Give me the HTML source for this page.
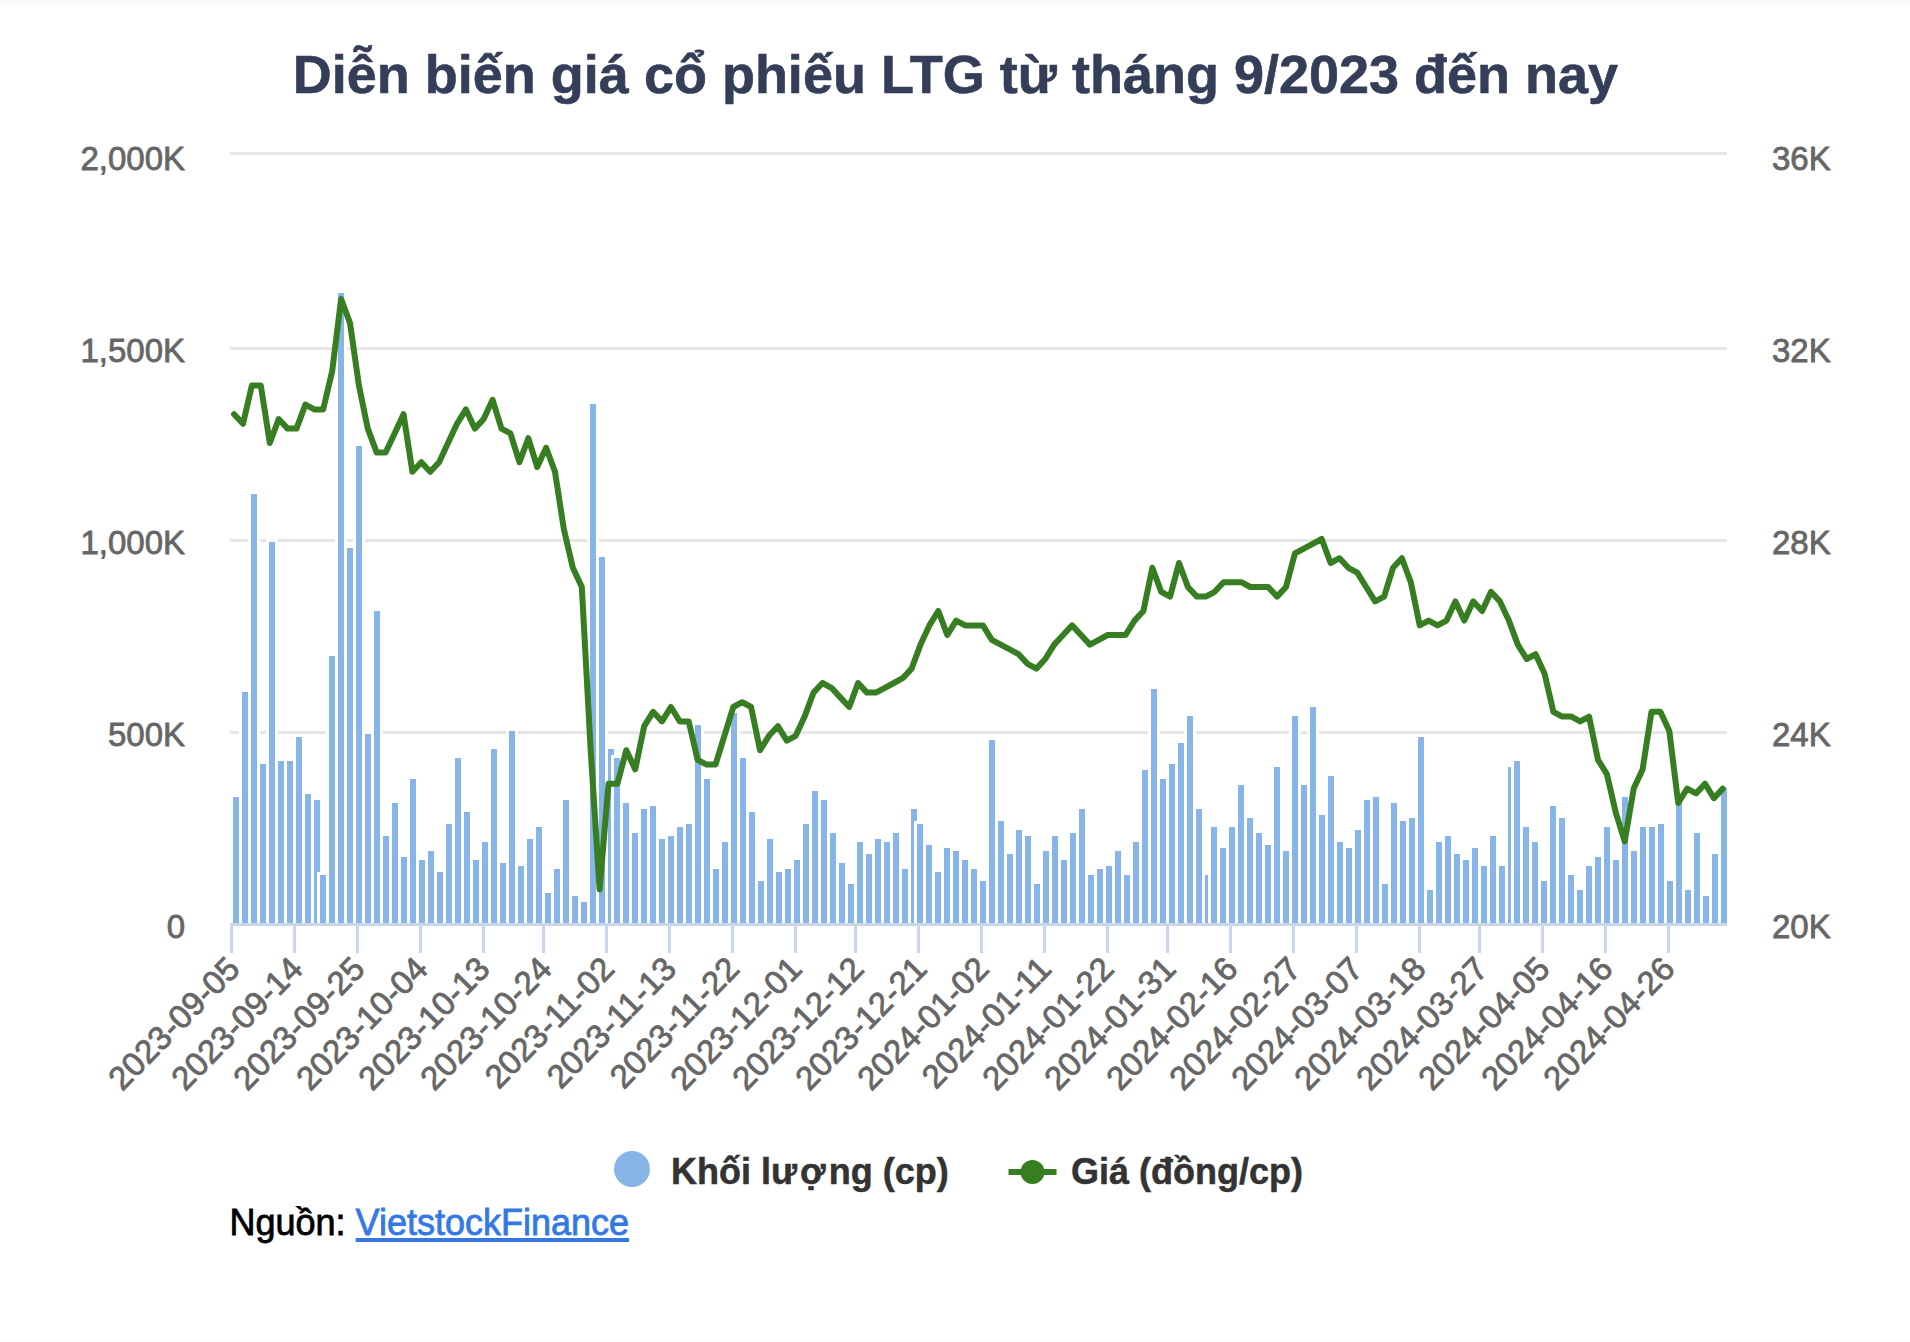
<!DOCTYPE html>
<html><head><meta charset="utf-8"><title>LTG</title>
<style>
html,body{margin:0;padding:0;background:#fff;}
body{width:1910px;height:1342px;position:relative;overflow:hidden;font-family:"Liberation Sans",sans-serif;}
.t{position:absolute;white-space:nowrap;line-height:1;}
#top{position:absolute;left:0;top:0;width:1910px;height:5px;background:#fafafa;}
#bot{position:absolute;left:0;top:1340px;width:1910px;height:2px;background:#fafafa;}
#title{left:0.5px;width:1910px;text-align:center;top:47px;font-size:54px;font-weight:bold;color:#343e58;-webkit-text-stroke:0.6px #343e58;}
.yl{font-size:33px;color:#666;-webkit-text-stroke:0.8px #666;}
.xl{font-size:33px;color:#666;-webkit-text-stroke:0.8px #666;transform-origin:100% 100%;transform:rotate(-45.5deg);text-align:right;letter-spacing:0.15px;}
.lg{font-size:36px;font-weight:bold;color:#333;-webkit-text-stroke:0.5px #333;}
#src{left:229.5px;top:1205px;font-size:36px;color:#000;-webkit-text-stroke:0.8px #000;}
#src span{color:#3478e6;-webkit-text-stroke:0.8px #3478e6;text-decoration:underline;text-decoration-thickness:4px;text-underline-offset:3px;}
svg{position:absolute;left:0;top:0;}
</style></head><body>
<div id="top"></div><div id="bot"></div>
<svg width="1910" height="1342" viewBox="0 0 1910 1342">

<rect x="230" y="152" width="1497" height="3" fill="#e6e6e6"/>
<rect x="230" y="347" width="1497" height="3" fill="#e6e6e6"/>
<rect x="230" y="539" width="1497" height="3" fill="#e6e6e6"/>
<rect x="230" y="731" width="1497" height="3" fill="#e6e6e6"/>
<rect x="230" y="794" width="12" height="129" fill="#fff"/>
<rect x="233" y="797" width="6" height="126" fill="#88b5e7"/>
<rect x="239" y="689" width="12" height="234" fill="#fff"/>
<rect x="242" y="692" width="6" height="231" fill="#88b5e7"/>
<rect x="248" y="491" width="12" height="432" fill="#fff"/>
<rect x="251" y="494" width="6" height="429" fill="#88b5e7"/>
<rect x="257" y="761" width="12" height="162" fill="#fff"/>
<rect x="260" y="764" width="6" height="159" fill="#88b5e7"/>
<rect x="266" y="539" width="12" height="384" fill="#fff"/>
<rect x="269" y="542" width="6" height="381" fill="#88b5e7"/>
<rect x="275" y="758" width="12" height="165" fill="#fff"/>
<rect x="278" y="761" width="6" height="162" fill="#88b5e7"/>
<rect x="284" y="758" width="12" height="165" fill="#fff"/>
<rect x="287" y="761" width="6" height="162" fill="#88b5e7"/>
<rect x="293" y="734" width="12" height="189" fill="#fff"/>
<rect x="296" y="737" width="6" height="186" fill="#88b5e7"/>
<rect x="302" y="791" width="12" height="132" fill="#fff"/>
<rect x="305" y="794" width="6" height="129" fill="#88b5e7"/>
<rect x="311" y="797" width="12" height="126" fill="#fff"/>
<rect x="314" y="800" width="6" height="123" fill="#88b5e7"/>
<rect x="317" y="872" width="12" height="51" fill="#fff"/>
<rect x="320" y="875" width="6" height="48" fill="#88b5e7"/>
<rect x="326" y="653" width="12" height="270" fill="#fff"/>
<rect x="329" y="656" width="6" height="267" fill="#88b5e7"/>
<rect x="335" y="290" width="12" height="633" fill="#fff"/>
<rect x="338" y="293" width="6" height="630" fill="#88b5e7"/>
<rect x="344" y="545" width="12" height="378" fill="#fff"/>
<rect x="347" y="548" width="6" height="375" fill="#88b5e7"/>
<rect x="353" y="443" width="12" height="480" fill="#fff"/>
<rect x="356" y="446" width="6" height="477" fill="#88b5e7"/>
<rect x="362" y="731" width="12" height="192" fill="#fff"/>
<rect x="365" y="734" width="6" height="189" fill="#88b5e7"/>
<rect x="371" y="608" width="12" height="315" fill="#fff"/>
<rect x="374" y="611" width="6" height="312" fill="#88b5e7"/>
<rect x="380" y="833" width="12" height="90" fill="#fff"/>
<rect x="383" y="836" width="6" height="87" fill="#88b5e7"/>
<rect x="389" y="800" width="12" height="123" fill="#fff"/>
<rect x="392" y="803" width="6" height="120" fill="#88b5e7"/>
<rect x="398" y="854" width="12" height="69" fill="#fff"/>
<rect x="401" y="857" width="6" height="66" fill="#88b5e7"/>
<rect x="407" y="776" width="12" height="147" fill="#fff"/>
<rect x="410" y="779" width="6" height="144" fill="#88b5e7"/>
<rect x="416" y="857" width="12" height="66" fill="#fff"/>
<rect x="419" y="860" width="6" height="63" fill="#88b5e7"/>
<rect x="425" y="848" width="12" height="75" fill="#fff"/>
<rect x="428" y="851" width="6" height="72" fill="#88b5e7"/>
<rect x="434" y="869" width="12" height="54" fill="#fff"/>
<rect x="437" y="872" width="6" height="51" fill="#88b5e7"/>
<rect x="443" y="821" width="12" height="102" fill="#fff"/>
<rect x="446" y="824" width="6" height="99" fill="#88b5e7"/>
<rect x="452" y="755" width="12" height="168" fill="#fff"/>
<rect x="455" y="758" width="6" height="165" fill="#88b5e7"/>
<rect x="461" y="809" width="12" height="114" fill="#fff"/>
<rect x="464" y="812" width="6" height="111" fill="#88b5e7"/>
<rect x="470" y="857" width="12" height="66" fill="#fff"/>
<rect x="473" y="860" width="6" height="63" fill="#88b5e7"/>
<rect x="479" y="839" width="12" height="84" fill="#fff"/>
<rect x="482" y="842" width="6" height="81" fill="#88b5e7"/>
<rect x="488" y="746" width="12" height="177" fill="#fff"/>
<rect x="491" y="749" width="6" height="174" fill="#88b5e7"/>
<rect x="497" y="860" width="12" height="63" fill="#fff"/>
<rect x="500" y="863" width="6" height="60" fill="#88b5e7"/>
<rect x="506" y="728" width="12" height="195" fill="#fff"/>
<rect x="509" y="731" width="6" height="192" fill="#88b5e7"/>
<rect x="515" y="863" width="12" height="60" fill="#fff"/>
<rect x="518" y="866" width="6" height="57" fill="#88b5e7"/>
<rect x="524" y="836" width="12" height="87" fill="#fff"/>
<rect x="527" y="839" width="6" height="84" fill="#88b5e7"/>
<rect x="533" y="824" width="12" height="99" fill="#fff"/>
<rect x="536" y="827" width="6" height="96" fill="#88b5e7"/>
<rect x="542" y="890" width="12" height="33" fill="#fff"/>
<rect x="545" y="893" width="6" height="30" fill="#88b5e7"/>
<rect x="551" y="866" width="12" height="57" fill="#fff"/>
<rect x="554" y="869" width="6" height="54" fill="#88b5e7"/>
<rect x="560" y="797" width="12" height="126" fill="#fff"/>
<rect x="563" y="800" width="6" height="123" fill="#88b5e7"/>
<rect x="569" y="893" width="12" height="30" fill="#fff"/>
<rect x="572" y="896" width="6" height="27" fill="#88b5e7"/>
<rect x="578" y="899" width="12" height="24" fill="#fff"/>
<rect x="581" y="902" width="6" height="21" fill="#88b5e7"/>
<rect x="587" y="401" width="12" height="522" fill="#fff"/>
<rect x="590" y="404" width="6" height="519" fill="#88b5e7"/>
<rect x="596" y="554" width="12" height="369" fill="#fff"/>
<rect x="599" y="557" width="6" height="366" fill="#88b5e7"/>
<rect x="605" y="746" width="12" height="177" fill="#fff"/>
<rect x="608" y="749" width="6" height="174" fill="#88b5e7"/>
<rect x="611" y="755" width="12" height="168" fill="#fff"/>
<rect x="614" y="758" width="6" height="165" fill="#88b5e7"/>
<rect x="620" y="800" width="12" height="123" fill="#fff"/>
<rect x="623" y="803" width="6" height="120" fill="#88b5e7"/>
<rect x="629" y="830" width="12" height="93" fill="#fff"/>
<rect x="632" y="833" width="6" height="90" fill="#88b5e7"/>
<rect x="638" y="806" width="12" height="117" fill="#fff"/>
<rect x="641" y="809" width="6" height="114" fill="#88b5e7"/>
<rect x="647" y="803" width="12" height="120" fill="#fff"/>
<rect x="650" y="806" width="6" height="117" fill="#88b5e7"/>
<rect x="656" y="836" width="12" height="87" fill="#fff"/>
<rect x="659" y="839" width="6" height="84" fill="#88b5e7"/>
<rect x="665" y="833" width="12" height="90" fill="#fff"/>
<rect x="668" y="836" width="6" height="87" fill="#88b5e7"/>
<rect x="674" y="824" width="12" height="99" fill="#fff"/>
<rect x="677" y="827" width="6" height="96" fill="#88b5e7"/>
<rect x="683" y="821" width="12" height="102" fill="#fff"/>
<rect x="686" y="824" width="6" height="99" fill="#88b5e7"/>
<rect x="692" y="722" width="12" height="201" fill="#fff"/>
<rect x="695" y="725" width="6" height="198" fill="#88b5e7"/>
<rect x="701" y="776" width="12" height="147" fill="#fff"/>
<rect x="704" y="779" width="6" height="144" fill="#88b5e7"/>
<rect x="710" y="866" width="12" height="57" fill="#fff"/>
<rect x="713" y="869" width="6" height="54" fill="#88b5e7"/>
<rect x="719" y="839" width="12" height="84" fill="#fff"/>
<rect x="722" y="842" width="6" height="81" fill="#88b5e7"/>
<rect x="728" y="710" width="12" height="213" fill="#fff"/>
<rect x="731" y="713" width="6" height="210" fill="#88b5e7"/>
<rect x="737" y="755" width="12" height="168" fill="#fff"/>
<rect x="740" y="758" width="6" height="165" fill="#88b5e7"/>
<rect x="746" y="809" width="12" height="114" fill="#fff"/>
<rect x="749" y="812" width="6" height="111" fill="#88b5e7"/>
<rect x="755" y="878" width="12" height="45" fill="#fff"/>
<rect x="758" y="881" width="6" height="42" fill="#88b5e7"/>
<rect x="764" y="836" width="12" height="87" fill="#fff"/>
<rect x="767" y="839" width="6" height="84" fill="#88b5e7"/>
<rect x="773" y="869" width="12" height="54" fill="#fff"/>
<rect x="776" y="872" width="6" height="51" fill="#88b5e7"/>
<rect x="782" y="866" width="12" height="57" fill="#fff"/>
<rect x="785" y="869" width="6" height="54" fill="#88b5e7"/>
<rect x="791" y="857" width="12" height="66" fill="#fff"/>
<rect x="794" y="860" width="6" height="63" fill="#88b5e7"/>
<rect x="800" y="821" width="12" height="102" fill="#fff"/>
<rect x="803" y="824" width="6" height="99" fill="#88b5e7"/>
<rect x="809" y="788" width="12" height="135" fill="#fff"/>
<rect x="812" y="791" width="6" height="132" fill="#88b5e7"/>
<rect x="818" y="797" width="12" height="126" fill="#fff"/>
<rect x="821" y="800" width="6" height="123" fill="#88b5e7"/>
<rect x="827" y="830" width="12" height="93" fill="#fff"/>
<rect x="830" y="833" width="6" height="90" fill="#88b5e7"/>
<rect x="836" y="860" width="12" height="63" fill="#fff"/>
<rect x="839" y="863" width="6" height="60" fill="#88b5e7"/>
<rect x="845" y="881" width="12" height="42" fill="#fff"/>
<rect x="848" y="884" width="6" height="39" fill="#88b5e7"/>
<rect x="854" y="839" width="12" height="84" fill="#fff"/>
<rect x="857" y="842" width="6" height="81" fill="#88b5e7"/>
<rect x="863" y="851" width="12" height="72" fill="#fff"/>
<rect x="866" y="854" width="6" height="69" fill="#88b5e7"/>
<rect x="872" y="836" width="12" height="87" fill="#fff"/>
<rect x="875" y="839" width="6" height="84" fill="#88b5e7"/>
<rect x="881" y="839" width="12" height="84" fill="#fff"/>
<rect x="884" y="842" width="6" height="81" fill="#88b5e7"/>
<rect x="890" y="830" width="12" height="93" fill="#fff"/>
<rect x="893" y="833" width="6" height="90" fill="#88b5e7"/>
<rect x="899" y="866" width="12" height="57" fill="#fff"/>
<rect x="902" y="869" width="6" height="54" fill="#88b5e7"/>
<rect x="908" y="806" width="12" height="117" fill="#fff"/>
<rect x="911" y="809" width="6" height="114" fill="#88b5e7"/>
<rect x="914" y="821" width="12" height="102" fill="#fff"/>
<rect x="917" y="824" width="6" height="99" fill="#88b5e7"/>
<rect x="923" y="842" width="12" height="81" fill="#fff"/>
<rect x="926" y="845" width="6" height="78" fill="#88b5e7"/>
<rect x="932" y="869" width="12" height="54" fill="#fff"/>
<rect x="935" y="872" width="6" height="51" fill="#88b5e7"/>
<rect x="941" y="845" width="12" height="78" fill="#fff"/>
<rect x="944" y="848" width="6" height="75" fill="#88b5e7"/>
<rect x="950" y="848" width="12" height="75" fill="#fff"/>
<rect x="953" y="851" width="6" height="72" fill="#88b5e7"/>
<rect x="959" y="857" width="12" height="66" fill="#fff"/>
<rect x="962" y="860" width="6" height="63" fill="#88b5e7"/>
<rect x="968" y="866" width="12" height="57" fill="#fff"/>
<rect x="971" y="869" width="6" height="54" fill="#88b5e7"/>
<rect x="977" y="878" width="12" height="45" fill="#fff"/>
<rect x="980" y="881" width="6" height="42" fill="#88b5e7"/>
<rect x="986" y="737" width="12" height="186" fill="#fff"/>
<rect x="989" y="740" width="6" height="183" fill="#88b5e7"/>
<rect x="995" y="818" width="12" height="105" fill="#fff"/>
<rect x="998" y="821" width="6" height="102" fill="#88b5e7"/>
<rect x="1004" y="851" width="12" height="72" fill="#fff"/>
<rect x="1007" y="854" width="6" height="69" fill="#88b5e7"/>
<rect x="1013" y="827" width="12" height="96" fill="#fff"/>
<rect x="1016" y="830" width="6" height="93" fill="#88b5e7"/>
<rect x="1022" y="833" width="12" height="90" fill="#fff"/>
<rect x="1025" y="836" width="6" height="87" fill="#88b5e7"/>
<rect x="1031" y="881" width="12" height="42" fill="#fff"/>
<rect x="1034" y="884" width="6" height="39" fill="#88b5e7"/>
<rect x="1040" y="848" width="12" height="75" fill="#fff"/>
<rect x="1043" y="851" width="6" height="72" fill="#88b5e7"/>
<rect x="1049" y="833" width="12" height="90" fill="#fff"/>
<rect x="1052" y="836" width="6" height="87" fill="#88b5e7"/>
<rect x="1058" y="857" width="12" height="66" fill="#fff"/>
<rect x="1061" y="860" width="6" height="63" fill="#88b5e7"/>
<rect x="1067" y="830" width="12" height="93" fill="#fff"/>
<rect x="1070" y="833" width="6" height="90" fill="#88b5e7"/>
<rect x="1076" y="806" width="12" height="117" fill="#fff"/>
<rect x="1079" y="809" width="6" height="114" fill="#88b5e7"/>
<rect x="1085" y="872" width="12" height="51" fill="#fff"/>
<rect x="1088" y="875" width="6" height="48" fill="#88b5e7"/>
<rect x="1094" y="866" width="12" height="57" fill="#fff"/>
<rect x="1097" y="869" width="6" height="54" fill="#88b5e7"/>
<rect x="1103" y="863" width="12" height="60" fill="#fff"/>
<rect x="1106" y="866" width="6" height="57" fill="#88b5e7"/>
<rect x="1112" y="848" width="12" height="75" fill="#fff"/>
<rect x="1115" y="851" width="6" height="72" fill="#88b5e7"/>
<rect x="1121" y="872" width="12" height="51" fill="#fff"/>
<rect x="1124" y="875" width="6" height="48" fill="#88b5e7"/>
<rect x="1130" y="839" width="12" height="84" fill="#fff"/>
<rect x="1133" y="842" width="6" height="81" fill="#88b5e7"/>
<rect x="1139" y="767" width="12" height="156" fill="#fff"/>
<rect x="1142" y="770" width="6" height="153" fill="#88b5e7"/>
<rect x="1148" y="686" width="12" height="237" fill="#fff"/>
<rect x="1151" y="689" width="6" height="234" fill="#88b5e7"/>
<rect x="1157" y="776" width="12" height="147" fill="#fff"/>
<rect x="1160" y="779" width="6" height="144" fill="#88b5e7"/>
<rect x="1166" y="761" width="12" height="162" fill="#fff"/>
<rect x="1169" y="764" width="6" height="159" fill="#88b5e7"/>
<rect x="1175" y="740" width="12" height="183" fill="#fff"/>
<rect x="1178" y="743" width="6" height="180" fill="#88b5e7"/>
<rect x="1184" y="713" width="12" height="210" fill="#fff"/>
<rect x="1187" y="716" width="6" height="207" fill="#88b5e7"/>
<rect x="1193" y="806" width="12" height="117" fill="#fff"/>
<rect x="1196" y="809" width="6" height="114" fill="#88b5e7"/>
<rect x="1202" y="872" width="12" height="51" fill="#fff"/>
<rect x="1205" y="875" width="6" height="48" fill="#88b5e7"/>
<rect x="1208" y="824" width="12" height="99" fill="#fff"/>
<rect x="1211" y="827" width="6" height="96" fill="#88b5e7"/>
<rect x="1217" y="845" width="12" height="78" fill="#fff"/>
<rect x="1220" y="848" width="6" height="75" fill="#88b5e7"/>
<rect x="1226" y="824" width="12" height="99" fill="#fff"/>
<rect x="1229" y="827" width="6" height="96" fill="#88b5e7"/>
<rect x="1235" y="782" width="12" height="141" fill="#fff"/>
<rect x="1238" y="785" width="6" height="138" fill="#88b5e7"/>
<rect x="1244" y="815" width="12" height="108" fill="#fff"/>
<rect x="1247" y="818" width="6" height="105" fill="#88b5e7"/>
<rect x="1253" y="830" width="12" height="93" fill="#fff"/>
<rect x="1256" y="833" width="6" height="90" fill="#88b5e7"/>
<rect x="1262" y="842" width="12" height="81" fill="#fff"/>
<rect x="1265" y="845" width="6" height="78" fill="#88b5e7"/>
<rect x="1271" y="764" width="12" height="159" fill="#fff"/>
<rect x="1274" y="767" width="6" height="156" fill="#88b5e7"/>
<rect x="1280" y="848" width="12" height="75" fill="#fff"/>
<rect x="1283" y="851" width="6" height="72" fill="#88b5e7"/>
<rect x="1289" y="713" width="12" height="210" fill="#fff"/>
<rect x="1292" y="716" width="6" height="207" fill="#88b5e7"/>
<rect x="1298" y="782" width="12" height="141" fill="#fff"/>
<rect x="1301" y="785" width="6" height="138" fill="#88b5e7"/>
<rect x="1307" y="704" width="12" height="219" fill="#fff"/>
<rect x="1310" y="707" width="6" height="216" fill="#88b5e7"/>
<rect x="1316" y="812" width="12" height="111" fill="#fff"/>
<rect x="1319" y="815" width="6" height="108" fill="#88b5e7"/>
<rect x="1325" y="773" width="12" height="150" fill="#fff"/>
<rect x="1328" y="776" width="6" height="147" fill="#88b5e7"/>
<rect x="1334" y="839" width="12" height="84" fill="#fff"/>
<rect x="1337" y="842" width="6" height="81" fill="#88b5e7"/>
<rect x="1343" y="845" width="12" height="78" fill="#fff"/>
<rect x="1346" y="848" width="6" height="75" fill="#88b5e7"/>
<rect x="1352" y="827" width="12" height="96" fill="#fff"/>
<rect x="1355" y="830" width="6" height="93" fill="#88b5e7"/>
<rect x="1361" y="797" width="12" height="126" fill="#fff"/>
<rect x="1364" y="800" width="6" height="123" fill="#88b5e7"/>
<rect x="1370" y="794" width="12" height="129" fill="#fff"/>
<rect x="1373" y="797" width="6" height="126" fill="#88b5e7"/>
<rect x="1379" y="881" width="12" height="42" fill="#fff"/>
<rect x="1382" y="884" width="6" height="39" fill="#88b5e7"/>
<rect x="1388" y="800" width="12" height="123" fill="#fff"/>
<rect x="1391" y="803" width="6" height="120" fill="#88b5e7"/>
<rect x="1397" y="818" width="12" height="105" fill="#fff"/>
<rect x="1400" y="821" width="6" height="102" fill="#88b5e7"/>
<rect x="1406" y="815" width="12" height="108" fill="#fff"/>
<rect x="1409" y="818" width="6" height="105" fill="#88b5e7"/>
<rect x="1415" y="734" width="12" height="189" fill="#fff"/>
<rect x="1418" y="737" width="6" height="186" fill="#88b5e7"/>
<rect x="1424" y="887" width="12" height="36" fill="#fff"/>
<rect x="1427" y="890" width="6" height="33" fill="#88b5e7"/>
<rect x="1433" y="839" width="12" height="84" fill="#fff"/>
<rect x="1436" y="842" width="6" height="81" fill="#88b5e7"/>
<rect x="1442" y="833" width="12" height="90" fill="#fff"/>
<rect x="1445" y="836" width="6" height="87" fill="#88b5e7"/>
<rect x="1451" y="851" width="12" height="72" fill="#fff"/>
<rect x="1454" y="854" width="6" height="69" fill="#88b5e7"/>
<rect x="1460" y="857" width="12" height="66" fill="#fff"/>
<rect x="1463" y="860" width="6" height="63" fill="#88b5e7"/>
<rect x="1469" y="845" width="12" height="78" fill="#fff"/>
<rect x="1472" y="848" width="6" height="75" fill="#88b5e7"/>
<rect x="1478" y="863" width="12" height="60" fill="#fff"/>
<rect x="1481" y="866" width="6" height="57" fill="#88b5e7"/>
<rect x="1487" y="833" width="12" height="90" fill="#fff"/>
<rect x="1490" y="836" width="6" height="87" fill="#88b5e7"/>
<rect x="1496" y="863" width="12" height="60" fill="#fff"/>
<rect x="1499" y="866" width="6" height="57" fill="#88b5e7"/>
<rect x="1505" y="764" width="12" height="159" fill="#fff"/>
<rect x="1508" y="767" width="6" height="156" fill="#88b5e7"/>
<rect x="1511" y="758" width="12" height="165" fill="#fff"/>
<rect x="1514" y="761" width="6" height="162" fill="#88b5e7"/>
<rect x="1520" y="824" width="12" height="99" fill="#fff"/>
<rect x="1523" y="827" width="6" height="96" fill="#88b5e7"/>
<rect x="1529" y="839" width="12" height="84" fill="#fff"/>
<rect x="1532" y="842" width="6" height="81" fill="#88b5e7"/>
<rect x="1538" y="878" width="12" height="45" fill="#fff"/>
<rect x="1541" y="881" width="6" height="42" fill="#88b5e7"/>
<rect x="1547" y="803" width="12" height="120" fill="#fff"/>
<rect x="1550" y="806" width="6" height="117" fill="#88b5e7"/>
<rect x="1556" y="815" width="12" height="108" fill="#fff"/>
<rect x="1559" y="818" width="6" height="105" fill="#88b5e7"/>
<rect x="1565" y="872" width="12" height="51" fill="#fff"/>
<rect x="1568" y="875" width="6" height="48" fill="#88b5e7"/>
<rect x="1574" y="887" width="12" height="36" fill="#fff"/>
<rect x="1577" y="890" width="6" height="33" fill="#88b5e7"/>
<rect x="1583" y="863" width="12" height="60" fill="#fff"/>
<rect x="1586" y="866" width="6" height="57" fill="#88b5e7"/>
<rect x="1592" y="854" width="12" height="69" fill="#fff"/>
<rect x="1595" y="857" width="6" height="66" fill="#88b5e7"/>
<rect x="1601" y="824" width="12" height="99" fill="#fff"/>
<rect x="1604" y="827" width="6" height="96" fill="#88b5e7"/>
<rect x="1610" y="857" width="12" height="66" fill="#fff"/>
<rect x="1613" y="860" width="6" height="63" fill="#88b5e7"/>
<rect x="1619" y="794" width="12" height="129" fill="#fff"/>
<rect x="1622" y="797" width="6" height="126" fill="#88b5e7"/>
<rect x="1628" y="848" width="12" height="75" fill="#fff"/>
<rect x="1631" y="851" width="6" height="72" fill="#88b5e7"/>
<rect x="1637" y="824" width="12" height="99" fill="#fff"/>
<rect x="1640" y="827" width="6" height="96" fill="#88b5e7"/>
<rect x="1646" y="824" width="12" height="99" fill="#fff"/>
<rect x="1649" y="827" width="6" height="96" fill="#88b5e7"/>
<rect x="1655" y="821" width="12" height="102" fill="#fff"/>
<rect x="1658" y="824" width="6" height="99" fill="#88b5e7"/>
<rect x="1664" y="878" width="12" height="45" fill="#fff"/>
<rect x="1667" y="881" width="6" height="42" fill="#88b5e7"/>
<rect x="1673" y="797" width="12" height="126" fill="#fff"/>
<rect x="1676" y="800" width="6" height="123" fill="#88b5e7"/>
<rect x="1682" y="887" width="12" height="36" fill="#fff"/>
<rect x="1685" y="890" width="6" height="33" fill="#88b5e7"/>
<rect x="1691" y="830" width="12" height="93" fill="#fff"/>
<rect x="1694" y="833" width="6" height="90" fill="#88b5e7"/>
<rect x="1700" y="893" width="12" height="30" fill="#fff"/>
<rect x="1703" y="896" width="6" height="27" fill="#88b5e7"/>
<rect x="1709" y="851" width="12" height="72" fill="#fff"/>
<rect x="1712" y="854" width="6" height="69" fill="#88b5e7"/>
<rect x="1718" y="785" width="12" height="138" fill="#fff"/>
<rect x="1721" y="788" width="6" height="135" fill="#88b5e7"/>
<rect x="230" y="923" width="1497" height="3" fill="#ccd6eb"/>
<rect x="230.0" y="923" width="3" height="30" fill="#ccd6eb"/>
<rect x="293.0" y="923" width="3" height="30" fill="#ccd6eb"/>
<rect x="356.0" y="923" width="3" height="30" fill="#ccd6eb"/>
<rect x="419.0" y="923" width="3" height="30" fill="#ccd6eb"/>
<rect x="482.0" y="923" width="3" height="30" fill="#ccd6eb"/>
<rect x="542.0" y="923" width="3" height="30" fill="#ccd6eb"/>
<rect x="605.0" y="923" width="3" height="30" fill="#ccd6eb"/>
<rect x="668.0" y="923" width="3" height="30" fill="#ccd6eb"/>
<rect x="731.0" y="923" width="3" height="30" fill="#ccd6eb"/>
<rect x="794.0" y="923" width="3" height="30" fill="#ccd6eb"/>
<rect x="854.0" y="923" width="3" height="30" fill="#ccd6eb"/>
<rect x="917.0" y="923" width="3" height="30" fill="#ccd6eb"/>
<rect x="980.0" y="923" width="3" height="30" fill="#ccd6eb"/>
<rect x="1043.0" y="923" width="3" height="30" fill="#ccd6eb"/>
<rect x="1106.0" y="923" width="3" height="30" fill="#ccd6eb"/>
<rect x="1166.0" y="923" width="3" height="30" fill="#ccd6eb"/>
<rect x="1229.0" y="923" width="3" height="30" fill="#ccd6eb"/>
<rect x="1292.0" y="923" width="3" height="30" fill="#ccd6eb"/>
<rect x="1355.0" y="923" width="3" height="30" fill="#ccd6eb"/>
<rect x="1418.0" y="923" width="3" height="30" fill="#ccd6eb"/>
<rect x="1478.0" y="923" width="3" height="30" fill="#ccd6eb"/>
<rect x="1541.0" y="923" width="3" height="30" fill="#ccd6eb"/>
<rect x="1604.0" y="923" width="3" height="30" fill="#ccd6eb"/>
<rect x="1667.0" y="923" width="3" height="30" fill="#ccd6eb"/>
<polyline points="234.1,414.2 243.0,423.8 251.9,385.4 260.8,385.4 269.8,443.0 278.7,419.0 287.6,428.6 296.5,428.6 305.4,404.6 314.3,409.4 323.2,409.4 332.2,371.0 341.1,299.0 350.0,323.0 358.9,385.4 367.8,428.6 376.7,452.6 385.6,452.6 394.6,433.4 403.5,414.2 412.4,471.8 421.3,462.2 430.2,471.8 439.1,462.2 448.0,443.0 457.0,423.8 465.9,409.4 474.8,428.6 483.7,419.0 492.6,399.8 501.5,428.6 510.4,433.4 519.4,462.2 528.3,438.2 537.2,467.0 546.1,447.8 555.0,471.8 563.9,529.4 572.8,567.8 581.8,587.0 590.7,750.2 599.6,889.4 608.5,783.8 617.4,783.8 626.3,750.2 635.2,769.4 644.2,726.2 653.1,711.8 662.0,721.4 670.9,707.0 679.8,721.4 688.7,721.4 697.6,759.8 706.6,764.6 715.5,764.6 724.4,735.8 733.3,707.0 742.2,702.2 751.1,707.0 760.0,750.2 769.0,735.8 777.9,726.2 786.8,740.6 795.7,735.8 804.6,716.6 813.5,692.6 822.5,683.0 831.4,687.8 840.3,697.4 849.2,707.0 858.1,683.0 867.0,692.6 875.9,692.6 884.9,687.8 893.8,683.0 902.7,678.2 911.6,668.6 920.5,644.6 929.4,625.4 938.3,611.0 947.3,635.0 956.2,620.6 965.1,625.4 974.0,625.4 982.9,625.4 991.8,639.8 1000.7,644.6 1009.7,649.4 1018.6,654.2 1027.5,663.8 1036.4,668.6 1045.3,659.0 1054.2,644.6 1063.1,635.0 1072.1,625.4 1081.0,635.0 1089.9,644.6 1098.8,639.8 1107.7,635.0 1116.6,635.0 1125.5,635.0 1134.5,620.6 1143.4,611.0 1152.3,567.8 1161.2,591.8 1170.1,596.6 1179.0,563.0 1187.9,587.0 1196.9,596.6 1205.8,596.6 1214.7,591.8 1223.6,582.2 1232.5,582.2 1241.4,582.2 1250.3,587.0 1259.3,587.0 1268.2,587.0 1277.1,596.6 1286.0,587.0 1294.9,553.4 1303.8,548.6 1312.7,543.8 1321.7,539.0 1330.6,563.0 1339.5,558.2 1348.4,567.8 1357.3,572.6 1366.2,587.0 1375.1,601.4 1384.1,596.6 1393.0,567.8 1401.9,558.2 1410.8,582.2 1419.7,625.4 1428.6,620.6 1437.5,625.4 1446.5,620.6 1455.4,601.4 1464.3,620.6 1473.2,601.4 1482.1,611.0 1491.0,591.8 1499.9,601.4 1508.9,620.6 1517.8,644.6 1526.7,659.0 1535.6,654.2 1544.5,673.4 1553.4,711.8 1562.3,716.6 1571.3,716.6 1580.2,721.4 1589.1,716.6 1598.0,759.8 1606.9,774.2 1615.8,812.6 1624.7,841.4 1633.7,788.6 1642.6,769.4 1651.5,711.8 1660.4,711.8 1669.3,731.0 1678.2,803.0 1687.1,788.6 1696.1,793.4 1705.0,783.8 1713.9,798.2 1722.8,788.6" fill="none" stroke="#377e22" stroke-width="6" stroke-linejoin="round" stroke-linecap="round"/>
<circle cx="632" cy="1169" r="18" fill="#88b5e7"/>
<rect x="1008.5" y="1169" width="48" height="6" fill="#377e22"/>
<circle cx="1032.5" cy="1172" r="12" fill="#377e22"/>
</svg>
<div class="t" id="title">Diễn biến giá cổ phiếu LTG từ tháng 9/2023 đến nay</div>
<div class="t yl" style="right:1725px;top:142px">2,000K</div>
<div class="t yl" style="left:1772px;top:142px">36K</div>
<div class="t yl" style="right:1725px;top:334px">1,500K</div>
<div class="t yl" style="left:1772px;top:334px">32K</div>
<div class="t yl" style="right:1725px;top:526px">1,000K</div>
<div class="t yl" style="left:1772px;top:526px">28K</div>
<div class="t yl" style="right:1725px;top:718px">500K</div>
<div class="t yl" style="left:1772px;top:718px">24K</div>
<div class="t yl" style="right:1725px;top:910px">0</div>
<div class="t yl" style="left:1772px;top:910px">20K</div>
<div class="t xl" style="right:1664.3px;top:940.5px">2023-09-05</div>
<div class="t xl" style="right:1601.9px;top:940.5px">2023-09-14</div>
<div class="t xl" style="right:1539.5px;top:940.5px">2023-09-25</div>
<div class="t xl" style="right:1477.2px;top:940.5px">2023-10-04</div>
<div class="t xl" style="right:1414.8px;top:940.5px">2023-10-13</div>
<div class="t xl" style="right:1352.4px;top:940.5px">2023-10-24</div>
<div class="t xl" style="right:1290.0px;top:940.5px">2023-11-02</div>
<div class="t xl" style="right:1227.7px;top:940.5px">2023-11-13</div>
<div class="t xl" style="right:1165.3px;top:940.5px">2023-11-22</div>
<div class="t xl" style="right:1102.9px;top:940.5px">2023-12-01</div>
<div class="t xl" style="right:1040.5px;top:940.5px">2023-12-12</div>
<div class="t xl" style="right:978.2px;top:940.5px">2023-12-21</div>
<div class="t xl" style="right:915.8px;top:940.5px">2024-01-02</div>
<div class="t xl" style="right:853.4px;top:940.5px">2024-01-11</div>
<div class="t xl" style="right:791.0px;top:940.5px">2024-01-22</div>
<div class="t xl" style="right:728.7px;top:940.5px">2024-01-31</div>
<div class="t xl" style="right:666.3px;top:940.5px">2024-02-16</div>
<div class="t xl" style="right:603.9px;top:940.5px">2024-02-27</div>
<div class="t xl" style="right:541.5px;top:940.5px">2024-03-07</div>
<div class="t xl" style="right:479.2px;top:940.5px">2024-03-18</div>
<div class="t xl" style="right:416.8px;top:940.5px">2024-03-27</div>
<div class="t xl" style="right:354.4px;top:940.5px">2024-04-05</div>
<div class="t xl" style="right:292.0px;top:940.5px">2024-04-16</div>
<div class="t xl" style="right:229.7px;top:940.5px">2024-04-26</div>
<div class="t lg" style="left:671px;top:1154px">Khối l<span style="letter-spacing:3px">ượ</span>ng (cp)</div>
<div class="t lg" style="left:1071px;top:1154px">Giá (đồng/cp)</div>
<div class="t" id="src">Nguồn: <span>VietstockFinance</span></div>
</body></html>
